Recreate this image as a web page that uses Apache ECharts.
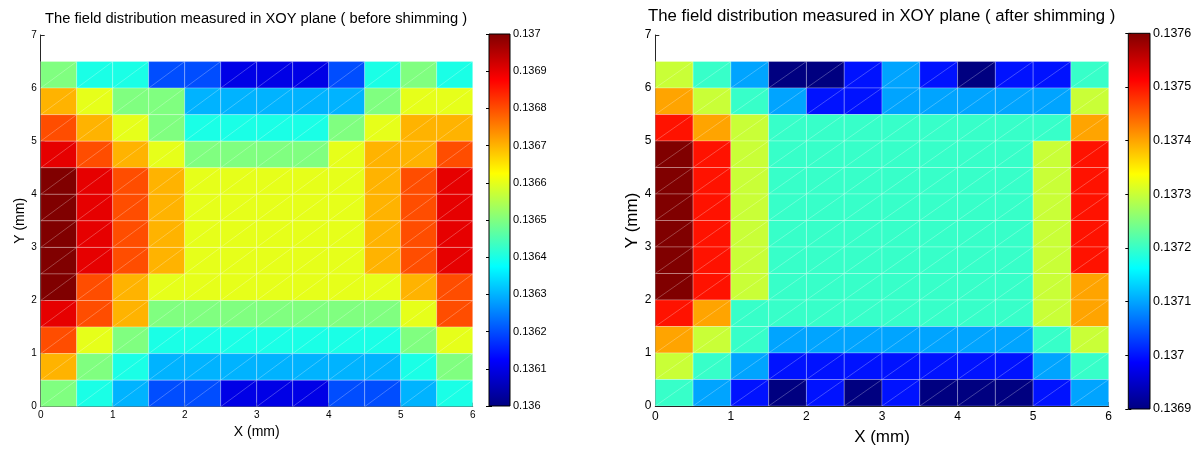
<!DOCTYPE html>
<html>
<head>
<meta charset="utf-8">
<script src="https://cdn.jsdelivr.net/npm/echarts@6/dist/echarts.min.js"></script>
<style>
html,body{margin:0;padding:0;background:#fff;}
#chart{width:1197px;height:451px;}
</style>
</head>
<body>
<div id="chart"></div>
<script>
// ---- data ----
const xStarts = [0, 0.5, 1, 1.5, 2, 2.5, 3, 3.5, 4, 4.5, 5, 5.5];
const yStarts = [6, 5.5, 5, 4.5, 4, 3.5, 3, 2.5, 2, 1.5, 1, 0.5, 0]; // top row first
const cellSize = 0.5;

const beforeRows = [
  [0.1365,0.1364,0.1364,0.1362,0.1362,0.1361,0.1361,0.1361,0.1362,0.1364,0.1365,0.1364],
  [0.1367,0.1366,0.1365,0.1365,0.1363,0.1363,0.1363,0.1363,0.1363,0.1365,0.1366,0.1366],
  [0.1368,0.1367,0.1366,0.1365,0.1364,0.1364,0.1364,0.1364,0.1365,0.1366,0.1367,0.1367],
  [0.1369,0.1368,0.1367,0.1366,0.1365,0.1365,0.1365,0.1365,0.1366,0.1367,0.1367,0.1368],
  [0.1370,0.1369,0.1368,0.1367,0.1366,0.1366,0.1366,0.1366,0.1366,0.1367,0.1368,0.1369],
  [0.1370,0.1369,0.1368,0.1367,0.1366,0.1366,0.1366,0.1366,0.1366,0.1367,0.1368,0.1369],
  [0.1370,0.1369,0.1368,0.1367,0.1366,0.1366,0.1366,0.1366,0.1366,0.1367,0.1368,0.1369],
  [0.1370,0.1369,0.1368,0.1367,0.1366,0.1366,0.1366,0.1366,0.1366,0.1367,0.1368,0.1369],
  [0.1370,0.1368,0.1367,0.1366,0.1366,0.1366,0.1366,0.1366,0.1366,0.1366,0.1367,0.1368],
  [0.1369,0.1368,0.1367,0.1365,0.1365,0.1365,0.1365,0.1365,0.1365,0.1365,0.1366,0.1368],
  [0.1368,0.1366,0.1365,0.1364,0.1364,0.1364,0.1364,0.1364,0.1364,0.1364,0.1365,0.1366],
  [0.1367,0.1365,0.1364,0.1363,0.1363,0.1363,0.1363,0.1363,0.1363,0.1363,0.1364,0.1365],
  [0.1365,0.1364,0.1363,0.1362,0.1362,0.1361,0.1361,0.1361,0.1362,0.1362,0.1363,0.1364]
];

const afterRows = [
  [0.1373,0.1372,0.1371,0.1369,0.1369,0.1370,0.1371,0.1370,0.1369,0.1370,0.1370,0.1372],
  [0.1374,0.1373,0.1372,0.1371,0.1370,0.1370,0.1371,0.1371,0.1371,0.1371,0.1371,0.1373],
  [0.1375,0.1374,0.1373,0.1372,0.1372,0.1372,0.1372,0.1372,0.1372,0.1372,0.1372,0.1374],
  [0.1376,0.1375,0.1373,0.1372,0.1372,0.1372,0.1372,0.1372,0.1372,0.1372,0.1373,0.1375],
  [0.1376,0.1375,0.1373,0.1372,0.1372,0.1372,0.1372,0.1372,0.1372,0.1372,0.1373,0.1375],
  [0.1376,0.1375,0.1373,0.1372,0.1372,0.1372,0.1372,0.1372,0.1372,0.1372,0.1373,0.1375],
  [0.1376,0.1375,0.1373,0.1372,0.1372,0.1372,0.1372,0.1372,0.1372,0.1372,0.1373,0.1375],
  [0.1376,0.1375,0.1373,0.1372,0.1372,0.1372,0.1372,0.1372,0.1372,0.1372,0.1373,0.1375],
  [0.1376,0.1375,0.1373,0.1372,0.1372,0.1372,0.1372,0.1372,0.1372,0.1372,0.1373,0.1374],
  [0.1375,0.1374,0.1372,0.1372,0.1372,0.1372,0.1372,0.1372,0.1372,0.1372,0.1373,0.1374],
  [0.1374,0.1373,0.1372,0.1371,0.1371,0.1371,0.1371,0.1371,0.1371,0.1371,0.1372,0.1373],
  [0.1373,0.1372,0.1371,0.1370,0.1370,0.1370,0.1370,0.1370,0.1370,0.1370,0.1371,0.1372],
  [0.1372,0.1371,0.1370,0.1369,0.1370,0.1369,0.1370,0.1369,0.1369,0.1369,0.1370,0.1371]
];

const xTicks = [0, 1, 2, 3, 4, 5, 6];
const yTicks = [0, 1, 2, 3, 4, 5, 6, 7];
const beforeBarTicks = [0.1360,0.1361,0.1362,0.1363,0.1364,0.1365,0.1366,0.1367,0.1368,0.1369,0.1370];
const afterBarTicks = [0.1369,0.1370,0.1371,0.1372,0.1373,0.1374,0.1375,0.1376];

const titles = [
  'The field distribution measured in XOY plane ( before shimming )',
  'The field distribution measured in XOY plane ( after shimming )'
];
const xName = 'X (mm)';
const yName = 'Y (mm)';

// ---- build ----
const jet = ['#000080','#0000ff','#0080ff','#00ffff','#80ff80','#ffff00','#ff8000','#ff0000','#800000'];
const FONT = "'Liberation Sans', Arial, Helvetica, sans-serif";

function toItems(rows) {
  const out = [];
  rows.forEach((row, r) => row.forEach((v, c) => out.push([xStarts[c], yStarts[r], v])));
  return out;
}

function renderCell(params, api) {
  const x = api.value(0), y = api.value(1);
  const p0 = api.coord([x, y]);
  const p1 = api.coord([x + cellSize, y + cellSize]);
  const color = api.visual('color');
  const mesh = 'rgba(255,255,255,0.32)';
  return {
    type: 'group',
    children: [
      { type: 'rect', shape: { x: p0[0], y: p1[1], width: p1[0] - p0[0], height: p0[1] - p1[1] },
        style: { fill: color, stroke: mesh, lineWidth: 0.8 } },
      { type: 'line', shape: { x1: p0[0], y1: p0[1], x2: p1[0], y2: p1[1] },
        style: { stroke: mesh, lineWidth: 0.8 } }
    ]
  };
}

function renderBar(params, api) {
  const p0 = api.coord([api.value(0), api.value(1)]);
  const p1 = api.coord([api.value(2), api.value(3)]);
  const stops = jet.map((c, i) => ({ offset: i / (jet.length - 1), color: c }));
  return {
    type: 'rect',
    shape: { x: p0[0], y: p1[1], width: p1[0] - p0[0], height: p0[1] - p1[1] },
    style: {
      fill: new echarts.graphic.LinearGradient(0, 1, 0, 0, stops),
      stroke: '#000', lineWidth: 1
    }
  };
}

function axisPair(gridIndex, fs, xGap, yGap, xMargin, yMargin, nameFs) {
  const common = {
    type: 'value', gridIndex,
    axisLine: { show: true, lineStyle: { color: '#262626', width: 1 } },
    axisTick: { show: true, inside: true, length: 4, lineStyle: { color: '#262626' } },
    splitLine: { show: false },
    nameLocation: 'middle',
    nameTextStyle: { fontFamily: FONT, fontSize: nameFs, color: '#000' },
    axisLabel: { fontFamily: FONT, fontSize: fs, color: '#000' }
  };
  const x = Object.assign({}, common, {
    min: xTicks[0], max: xTicks[xTicks.length - 1], interval: xTicks[1] - xTicks[0],
    name: xName, nameGap: xGap, axisLabel: Object.assign({}, common.axisLabel, { margin: xMargin })
  });
  const y = Object.assign({}, common, {
    min: yTicks[0], max: yTicks[yTicks.length - 1], interval: yTicks[1] - yTicks[0],
    name: yName, nameGap: yGap, axisLabel: Object.assign({}, common.axisLabel, { margin: yMargin })
  });
  return [x, y];
}

function barAxes(gridIndex, ticks, fs) {
  const min = ticks[0], max = ticks[ticks.length - 1];
  const interval = +(ticks[1] - ticks[0]).toFixed(6);
  const x = { type: 'value', gridIndex, min: 0, max: 1, show: false };
  const yBase = {
    type: 'value', gridIndex, min, max, interval,
    axisLine: { show: false },
    splitLine: { show: false },
    axisTick: { show: true, inside: true, length: 3, lineStyle: { color: '#000' } }
  };
  const yRight = Object.assign({}, yBase, {
    position: 'right',
    axisLabel: { show: true, margin: 3, fontFamily: FONT, fontSize: fs, color: '#000',
      formatter: v => String(+(+v).toFixed(4)) }
  });
  const yLeft = Object.assign({}, yBase, { position: 'left', axisLabel: { show: false } });
  return { x, yRight, yLeft };
}

const a0 = axisPair(0, 10, 18, 14, 4, 4, 14);
const a2 = axisPair(2, 12, 23, 14, 5, 4, 17);
const b1 = barAxes(1, beforeBarTicks, 11);
const b3 = barAxes(3, afterBarTicks, 12.5);

const option = {
  backgroundColor: '#fff',
  animation: false,
  title: [
    { text: titles[0], left: 45, top: 11, textStyle: { fontFamily: FONT, fontSize: 14.7, fontWeight: 'normal', color: '#000' }, padding: 0 },
    { text: titles[1], left: 648, top: 8, textStyle: { fontFamily: FONT, fontSize: 16.75, fontWeight: 'normal', color: '#000' }, padding: 0 }
  ],
  grid: [
    { left: 40.7, top: 35, width: 432, height: 371.7 },
    { left: 489, top: 34, width: 21, height: 372 },
    { left: 655.3, top: 35, width: 453.4, height: 376 },
    { left: 1128.3, top: 33.3, width: 21.7, height: 375.7 }
  ],
  xAxis: [a0[0], b1.x, a2[0], b3.x],
  yAxis: [a0[1], b1.yRight, b1.yLeft, a2[1], b3.yRight, b3.yLeft],
  visualMap: [
    { type: 'continuous', show: false, seriesIndex: 0, dimension: 2,
      min: beforeBarTicks[0], max: beforeBarTicks[beforeBarTicks.length - 1], inRange: { color: jet } },
    { type: 'continuous', show: false, seriesIndex: 2, dimension: 2,
      min: afterBarTicks[0], max: afterBarTicks[afterBarTicks.length - 1], inRange: { color: jet } }
  ],
  series: [
    { type: 'custom', xAxisIndex: 0, yAxisIndex: 0, renderItem: renderCell, data: toItems(beforeRows),
      encode: { x: 0, y: 1 }, clip: true },
    { type: 'custom', xAxisIndex: 1, yAxisIndex: 1, renderItem: renderBar,
      data: [[0, beforeBarTicks[0], 1, beforeBarTicks[beforeBarTicks.length - 1]]], z: 1 },
    { type: 'custom', xAxisIndex: 2, yAxisIndex: 3, renderItem: renderCell, data: toItems(afterRows),
      encode: { x: 0, y: 1 }, clip: true },
    { type: 'custom', xAxisIndex: 3, yAxisIndex: 4, renderItem: renderBar,
      data: [[0, afterBarTicks[0], 1, afterBarTicks[afterBarTicks.length - 1]]], z: 1 }
  ]
};

const chart = echarts.init(document.getElementById('chart'), null, { renderer: 'canvas' });
chart.setOption(option);
</script>
</body>
</html>
